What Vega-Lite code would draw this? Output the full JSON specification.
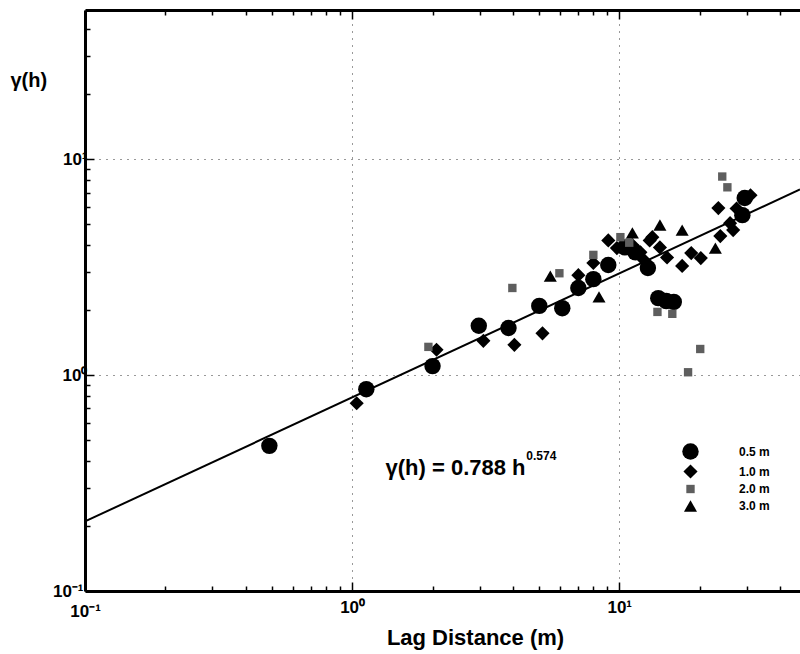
{
  "$schema": "https://vega.github.io/schema/vega-lite/v6.json",
  "autosize": {"type": "none"},
  "padding": {"left": 85, "top": 10, "right": 0, "bottom": 63},
  "width": 715,
  "height": 581,
  "background": "white",
  "config": {
    "view": {"stroke": null},
    "font": "Liberation Sans",
    "axis": {"labelFont": "Liberation Sans", "titleFont": "Liberation Sans"}
  },
  "resolve": {"axis": {"x": "independent"}},
  "layer": [
    {
      "data": {"values": [{"x": 0.1, "y": 0.21}, {"x": 47.5, "y": 7.23}]},
      "mark": {"type": "line", "color": "black", "strokeWidth": 2},
      "encoding": {
        "x": {"field": "x", "type": "quantitative",
          "scale": {"type": "log", "domain": [0.1, 47.5], "nice": false},
          "axis": {"orient": "top", "labels": false, "title": null, "grid": false,
            "values": [0.1, 0.2, 0.3, 0.4, 0.5, 0.6, 0.7, 0.8, 0.9, 1, 2, 3, 4, 5, 6, 7, 8, 9, 10, 20, 30, 40],
            "domainColor": "black", "domainWidth": 3, "tickColor": "black", "tickWidth": 1.5,
            "tickSize": {"condition": {"test": "datum.value == 1 || datum.value == 10", "value": -9}, "value": -5}}},
        "y": {"field": "y", "type": "quantitative",
          "scale": {"type": "log", "domain": [0.1, 49], "nice": false}}
      }
    },
    {
      "data": {"values": [
        {"series": "0.5 m", "x": 0.49, "y": 0.47},
        {"series": "0.5 m", "x": 1.13, "y": 0.86},
        {"series": "0.5 m", "x": 2.0, "y": 1.10},
        {"series": "0.5 m", "x": 2.98, "y": 1.69},
        {"series": "0.5 m", "x": 3.85, "y": 1.65},
        {"series": "0.5 m", "x": 5.02, "y": 2.09},
        {"series": "0.5 m", "x": 6.12, "y": 2.04},
        {"series": "0.5 m", "x": 7.03, "y": 2.53},
        {"series": "0.5 m", "x": 8.0, "y": 2.78},
        {"series": "0.5 m", "x": 9.1, "y": 3.23},
        {"series": "0.5 m", "x": 10.5, "y": 3.9},
        {"series": "0.5 m", "x": 11.5, "y": 3.7},
        {"series": "0.5 m", "x": 12.8, "y": 3.13},
        {"series": "0.5 m", "x": 14.0, "y": 2.27},
        {"series": "0.5 m", "x": 15.0, "y": 2.2},
        {"series": "0.5 m", "x": 16.0, "y": 2.18},
        {"series": "0.5 m", "x": 28.9, "y": 5.5},
        {"series": "0.5 m", "x": 29.5, "y": 6.6},
        {"series": "1.0 m", "x": 1.04, "y": 0.74},
        {"series": "1.0 m", "x": 2.07, "y": 1.31},
        {"series": "1.0 m", "x": 3.1, "y": 1.44},
        {"series": "1.0 m", "x": 4.05, "y": 1.38},
        {"series": "1.0 m", "x": 5.16, "y": 1.56},
        {"series": "1.0 m", "x": 7.03, "y": 2.9},
        {"series": "1.0 m", "x": 8.0, "y": 3.3},
        {"series": "1.0 m", "x": 9.1, "y": 4.2},
        {"series": "1.0 m", "x": 9.8, "y": 3.87},
        {"series": "1.0 m", "x": 11.2, "y": 4.0},
        {"series": "1.0 m", "x": 12.0, "y": 3.7},
        {"series": "1.0 m", "x": 12.4, "y": 3.4},
        {"series": "1.0 m", "x": 13.0, "y": 4.2},
        {"series": "1.0 m", "x": 13.3, "y": 4.35},
        {"series": "1.0 m", "x": 14.2, "y": 3.9},
        {"series": "1.0 m", "x": 15.1, "y": 3.5},
        {"series": "1.0 m", "x": 17.2, "y": 3.2},
        {"series": "1.0 m", "x": 18.6, "y": 3.67},
        {"series": "1.0 m", "x": 20.2, "y": 3.48},
        {"series": "1.0 m", "x": 23.5, "y": 5.93},
        {"series": "1.0 m", "x": 23.9, "y": 4.4},
        {"series": "1.0 m", "x": 26.0, "y": 5.05},
        {"series": "1.0 m", "x": 26.7, "y": 4.69},
        {"series": "1.0 m", "x": 27.5, "y": 5.9},
        {"series": "1.0 m", "x": 31.0, "y": 6.8},
        {"series": "2.0 m", "x": 1.93, "y": 1.35},
        {"series": "2.0 m", "x": 3.98, "y": 2.53},
        {"series": "2.0 m", "x": 5.97, "y": 2.96},
        {"series": "2.0 m", "x": 8.0, "y": 3.6},
        {"series": "2.0 m", "x": 10.1, "y": 4.35},
        {"series": "2.0 m", "x": 10.9, "y": 4.1},
        {"series": "2.0 m", "x": 13.9, "y": 1.96},
        {"series": "2.0 m", "x": 15.8, "y": 1.92},
        {"series": "2.0 m", "x": 20.1, "y": 1.32},
        {"series": "2.0 m", "x": 18.1, "y": 1.03},
        {"series": "2.0 m", "x": 24.3, "y": 8.3},
        {"series": "2.0 m", "x": 25.4, "y": 7.4},
        {"series": "3.0 m", "x": 5.52, "y": 2.87},
        {"series": "3.0 m", "x": 8.4, "y": 2.3},
        {"series": "3.0 m", "x": 11.2, "y": 4.55},
        {"series": "3.0 m", "x": 14.2, "y": 4.95},
        {"series": "3.0 m", "x": 17.2, "y": 4.69},
        {"series": "3.0 m", "x": 22.9, "y": 3.87}
      ]},
      "mark": {"type": "point", "filled": true, "opacity": 1},
      "encoding": {
        "x": {"field": "x", "type": "quantitative",
          "scale": {"type": "log", "domain": [0.1, 47.5], "nice": false},
          "axis": {"orient": "bottom", "title": "Lag Distance (m)",
            "values": [0.1, 0.2, 0.3, 0.4, 0.5, 0.6, 0.7, 0.8, 0.9, 1, 2, 3, 4, 5, 6, 7, 8, 9, 10, 20, 30, 40],
            "labelExpr": "datum.value == 0.1 ? '10⁻¹' : datum.value == 1 ? '10⁰' : datum.value == 10 ? '10¹' : ''",
            "labelFontSize": 17, "labelFontWeight": "bold", "labelColor": "black", "labelPadding": 17,
            "labelFlush": false, "labelOverlap": false,
            "titleFontSize": 22, "titleFontWeight": "bold", "titleColor": "black",
            "titleX": 390, "titleY": 46, "titleBaseline": "middle", "titleAlign": "center",
            "domainColor": "black", "domainWidth": 3, "tickColor": "black", "tickWidth": 1.5,
            "tickSize": {"condition": {"test": "datum.value == 1 || datum.value == 10", "value": -9}, "value": -5},
            "grid": true, "gridColor": "black", "gridDash": [1, 6], "gridWidth": 1,
            "gridOpacity": {"condition": {"test": "datum.value == 1 || datum.value == 10", "value": 0.8}, "value": 0}}},
        "y": {"field": "y", "type": "quantitative",
          "scale": {"type": "log", "domain": [0.1, 49], "nice": false},
          "axis": {"orient": "left", "title": "γ(h)",
            "values": [0.1, 0.2, 0.3, 0.4, 0.5, 0.6, 0.7, 0.8, 0.9, 1, 2, 3, 4, 5, 6, 7, 8, 9, 10, 20, 30, 40],
            "labelExpr": "datum.value == 0.1 ? '10⁻¹' : datum.value == 1 ? '10⁰' : datum.value == 10 ? '10¹' : ''",
            "labelFontSize": 17, "labelFontWeight": "bold", "labelColor": "black", "labelPadding": 7,
            "labelFlush": false, "labelOverlap": false,
            "titleFontSize": 20, "titleFontWeight": "bold", "titleColor": "black", "titleAngle": 0,
            "titleX": -75, "titleY": 70, "titleBaseline": "middle", "titleAlign": "left",
            "domainColor": "black", "domainWidth": 3, "tickColor": "black", "tickWidth": 1.5,
            "tickSize": {"condition": {"test": "datum.value == 1 || datum.value == 10", "value": -9}, "value": -5},
            "grid": true, "gridColor": "black", "gridDash": [1, 6], "gridWidth": 1,
            "gridOpacity": {"condition": {"test": "datum.value == 1 || datum.value == 10", "value": 0.8}, "value": 0}}},
        "shape": {"field": "series", "type": "nominal",
          "scale": {"domain": ["0.5 m", "1.0 m", "2.0 m", "3.0 m"], "range": ["circle", "diamond", "square", "triangle-up"]},
          "legend": {"orient": "none", "legendX": 597, "legendY": 433, "title": null, "padding": 0,
            "labelFont": "Liberation Sans", "labelFontSize": 12, "labelFontWeight": "bold", "labelColor": "black",
            "labelOffset": 40, "rowPadding": 4, "symbolStrokeWidth": 0}},
        "color": {"field": "series", "type": "nominal",
          "scale": {"domain": ["0.5 m", "1.0 m", "2.0 m", "3.0 m"], "range": ["black", "black", "#5e5e5e", "black"]}},
        "size": {"field": "series", "type": "nominal",
          "scale": {"type": "ordinal", "domain": ["0.5 m", "1.0 m", "2.0 m", "3.0 m"], "range": [270, 200, 70, 170]}}
      }
    },
    {
      "data": {"values": [{"x": 1.334, "y": 0.371, "label": "γ(h) = 0.788 h"}]},
      "mark": {"type": "text", "align": "left", "baseline": "middle", "fontSize": 22, "fontWeight": "bold", "color": "black", "font": "Liberation Sans"},
      "encoding": {
        "x": {"field": "x", "type": "quantitative", "scale": {"type": "log", "domain": [0.1, 47.5], "nice": false}, "axis": null},
        "y": {"field": "y", "type": "quantitative", "scale": {"type": "log", "domain": [0.1, 49], "nice": false}},
        "text": {"field": "label"}
      }
    },
    {
      "data": {"values": [{"x": 4.49, "y": 0.42, "label": "0.574"}]},
      "mark": {"type": "text", "align": "left", "baseline": "middle", "fontSize": 12, "fontWeight": "bold", "color": "black", "font": "Liberation Sans"},
      "encoding": {
        "x": {"field": "x", "type": "quantitative", "scale": {"type": "log", "domain": [0.1, 47.5], "nice": false}, "axis": null},
        "y": {"field": "y", "type": "quantitative", "scale": {"type": "log", "domain": [0.1, 49], "nice": false}},
        "text": {"field": "label"}
      }
    }
  ]
}
